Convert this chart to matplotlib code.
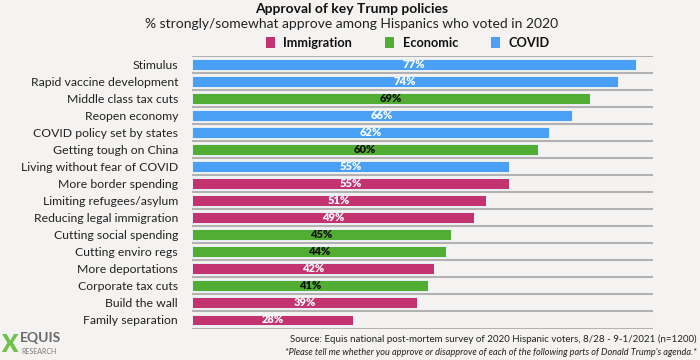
import matplotlib
matplotlib.use("Agg")
import matplotlib.pyplot as plt
from matplotlib.patches import Rectangle

# Data (top to bottom)
policies = [
    "Stimulus", "Rapid vaccine development", "Middle class tax cuts",
    "Reopen economy", "COVID policy set by states", "Getting tough on China",
    "Living without fear of COVID", "More border spending",
    "Limiting refugees/asylum", "Reducing legal immigration",
    "Cutting social spending", "Cutting enviro regs", "More deportations",
    "Corporate tax cuts", "Build the wall", "Family separation",
]
approve = [77, 74, 69, 66, 62, 60, 55, 55, 51, 49, 45, 44, 42, 41, 39, 28]
category = [
    "COVID", "COVID", "Economic", "COVID", "COVID", "Economic", "COVID",
    "Immigration", "Immigration", "Immigration", "Economic", "Economic",
    "Immigration", "Economic", "Immigration", "Immigration",
]
legend_order = ["Immigration", "Economic", "COVID"]

colors = {"Immigration": "#C33370", "Economic": "#52AD33", "COVID": "#49A0F4"}
label_colors = {"Immigration": "white", "Economic": "#111111", "COVID": "white"}
bg = "#F5F3F1"

plt.rcParams["font.family"] = ["Lato", "DejaVu Sans"]

fig = plt.figure(figsize=(7, 3.6), dpi=100, facecolor=bg)
ax = fig.add_axes([0.2743, 0.0875, 0.6586, 0.7578])
ax.set_facecolor(bg)

y = list(range(len(policies)))
bar_colors = [colors[c] for c in category]
ax.barh(y, approve, height=0.64, color=bar_colors, edgecolor="#E8F0F8",
        linewidth=0.7, zorder=3)

for yi, v, c in zip(y, approve, category):
    ax.text(v / 2, yi, f"{v}%", ha="center", va="center", fontsize=8,
            fontweight="heavy", color=label_colors[c], zorder=4)

# separator lines between rows
for k in range(len(policies) + 1):
    ax.axhline(k - 0.5, color="#B2B2B2", lw=1.5, zorder=2)

ax.set_xlim(0, 80)
ax.set_ylim(len(policies) - 0.5, -0.5)
ax.set_yticks(y)
ax.set_yticklabels(policies, fontsize=8.8, color="#222222")
ax.tick_params(axis="y", length=0, pad=10)
ax.set_xticks([])
for s in ax.spines.values():
    s.set_visible(False)

# title and subtitle
fig.text(0.502, 0.992, "Approval of key Trump policies", ha="center", va="top",
         fontsize=10, fontweight="bold", color="#111111")
fig.text(0.502, 0.950, "% strongly/somewhat approve among Hispanics who voted in 2020",
         ha="center", va="top", fontsize=10, color="#222222")

# legend
leg_x = [0.380, 0.550, 0.701]
for name, lx in zip(legend_order, leg_x):
    fig.patches.append(Rectangle((lx, 0.866), 0.013, 0.032, transform=fig.transFigure,
                                 facecolor=colors[name], edgecolor="none"))
    fig.text(lx + 0.025, 0.881, name, ha="left", va="center", fontsize=9.2,
             fontweight="bold", color="#111111")

# footer
fig.text(0.995, 0.058, "Source: Equis national post-mortem survey of 2020 Hispanic voters, "
         "8/28 - 9-1/2021 (n=1200)", ha="right", va="center", fontsize=7, color="#222222")
fig.text(0.995, 0.020, "*Please tell me whether you approve or disapprove of each of the "
         "following parts of Donald Trump's agenda.*", ha="right", va="center",
         fontsize=6.6, style="italic", color="#222222")

# logo
fig.text(0.002, 0.042, "X", ha="left", va="center", fontsize=17, fontweight="heavy",
         color="#6CC24A")
fig.text(0.029, 0.062, "EQUIS", ha="left", va="center", fontsize=10,
         fontweight="bold", color="#6A6A6A")
fig.text(0.030, 0.024, "RESEARCH", ha="left", va="center", fontsize=5,
         color="#7A7A7A", fontstretch="expanded")

fig.savefig("out.png", dpi=100, facecolor=bg)
